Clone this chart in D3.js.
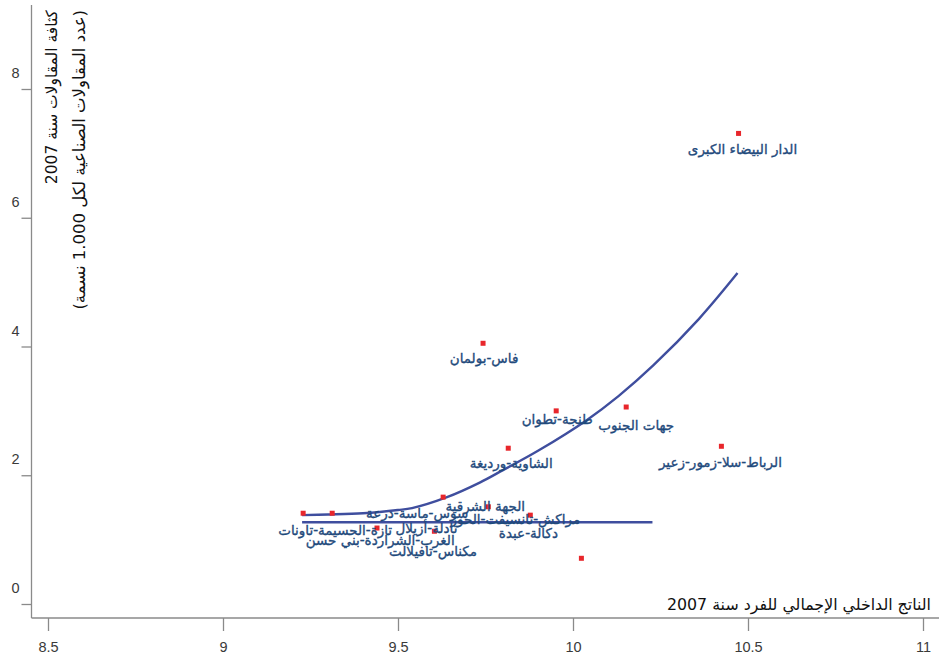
<!DOCTYPE html>
<html><head><meta charset="utf-8">
<script src="https://cdn.jsdelivr.net/npm/d3@7"></script>
<style>body{margin:0;background:#fff}svg{display:block}</style>
</head><body>
<svg id="c" width="939" height="666"></svg>
<script>
// ---- data ----
const regions = ["الدار البيضاء الكبرى","فاس-بولمان","طنجة-تطوان","جهات الجنوب","الشاوية-ورديغة","الرباط-سلا-زمور-زعير","الجهة الشرقية","سوس-ماسة-درعة","مراكش-تانسيفت-الحوز","دكالة-عبدة","تادلة-أزيلال","تازة-الحسيمة-تاونات","الغرب-الشراردة-بني حسن","مكناس-تافيلالت"];
const gdpPerCapita = [10.473, 9.743, 9.952, 10.152, 9.815, 10.424, 9.758, 9.629, 9.878, 10.024, 9.604, 9.229, 9.312, 9.44];
const firmDensity = [7.31, 4.05, 3.00, 3.06, 2.42, 2.45, 1.51, 1.66, 1.38, 0.71, 1.13, 1.41, 1.41, 1.18];
const fitX = [9.226, 9.30, 9.40, 9.50, 9.54, 9.64, 9.735, 9.80, 9.90, 10.04, 10.13, 10.23, 10.36, 10.47];
const fitY = [1.38, 1.39, 1.41, 1.46, 1.49, 1.66, 1.89, 2.08, 2.38, 2.86, 3.23, 3.71, 4.43, 5.14];
const meanX = [9.226, 10.227];
const meanY = [1.27, 1.27];
const xTicks = [8.5, 9, 9.5, 10, 10.5, 11];
const yTicks = [0, 2, 4, 6, 8];
const xTitle = "الناتج الداخلي الإجمالي للفرد سنة 2007";
const yTitle1 = "كثافة المقاولات سنة 2007";
const yTitle2 = "(عدد المقاولات الصناعية لكل 1.000 نسمة)";
// label nudges (px) relative to each point
const labelNudge = [[4,16],[1,15],[1,8],[10,18],[3,15],[-1,16],[-3,-1],[-26,16],[-15,4],[-53,-25],[-8,-3],[32,17],[48,27],[56,23]];

// ---- chart ----
const svg = d3.select("#c");
const x = d3.scaleLinear().domain([8.5, 11]).range([48, 923]);
const y = d3.scaleLinear().domain([0, 8]).range([604, 89]);
const axisColor = "#8a8a8a";
const axisX0 = 31.5, axisY0 = 618;

svg.append("line").attr("x1", axisX0).attr("x2", axisX0).attr("y1", 5).attr("y2", axisY0)
  .attr("stroke", axisColor).attr("stroke-width", 1.3);
svg.append("line").attr("x1", axisX0).attr("x2", 939).attr("y1", axisY0).attr("y2", axisY0)
  .attr("stroke", axisColor).attr("stroke-width", 1.3);

const xa = svg.append("g").attr("transform", `translate(0,${axisY0})`)
  .call(d3.axisBottom(x).tickValues(xTicks).tickFormat(d3.format("")).tickSize(13).tickPadding(11));
xa.select(".domain").remove();
xa.selectAll("line").attr("stroke", axisColor).attr("stroke-width", 1.3);
xa.selectAll("text").attr("fill", "#3a3a3a").attr("font-family", "Liberation Sans, Arial, sans-serif").attr("font-size", 14.5);

const ya = svg.append("g").attr("transform", `translate(${axisX0},0)`)
  .call(d3.axisLeft(y).tickValues(yTicks).tickSize(10).tickPadding(0));
ya.select(".domain").remove();
ya.selectAll("line").attr("stroke", axisColor).attr("stroke-width", 1.3);
ya.selectAll("text").attr("fill", "#3a3a3a").attr("font-family", "Liberation Sans, Arial, sans-serif").attr("font-size", 14.5)
  .attr("x", -16).attr("y", -16).attr("text-anchor", "middle");

const line = d3.line().x(d => x(d[0])).y(d => y(d[1])).curve(d3.curveCatmullRom.alpha(0.5));
svg.append("path").datum(meanX.map((v, i) => [v, meanY[i]])).attr("d", line)
  .attr("fill", "none").attr("stroke", "#3f4e9e").attr("stroke-width", 2.4);
svg.append("path").datum(fitX.map((v, i) => [v, fitY[i]])).attr("d", line)
  .attr("fill", "none").attr("stroke", "#3f4e9e").attr("stroke-width", 2.4);

const pts = regions.map((r, i) => ({ r, gx: gdpPerCapita[i], fy: firmDensity[i], n: labelNudge[i] }));
svg.append("g").selectAll("rect").data(pts).join("rect")
  .attr("x", d => x(d.gx) - 2.5).attr("y", d => y(d.fy) - 2.5)
  .attr("width", 5).attr("height", 5).attr("fill", "#e8262b");

svg.append("g").selectAll("text").data(pts).join("text")
  .attr("x", d => x(d.gx) + d.n[0]).attr("y", d => y(d.fy) + d.n[1])
  .attr("dy", "0.35em").attr("text-anchor", "middle")
  .attr("font-family", "DejaVu Sans, sans-serif").attr("font-size", 13.5)
  .attr("fill", "#1f4a7c").attr("stroke", "#1f4a7c").attr("stroke-width", 0.35)
  .text(d => d.r);

svg.append("text").attr("x", 931).attr("y", 610).attr("text-anchor", "end")
  .attr("font-family", "DejaVu Sans, sans-serif").attr("font-size", 15.8).attr("fill", "#111").text(xTitle);
svg.append("text").attr("transform", "translate(57,10) rotate(-90)")
  .attr("direction", "rtl").attr("text-anchor", "start")
  .attr("font-family", "DejaVu Sans, sans-serif").attr("font-size", 15.5).attr("fill", "#111").text(yTitle1);
svg.append("text").attr("transform", "translate(85,10) rotate(-90)")
  .attr("direction", "rtl").attr("text-anchor", "start")
  .attr("font-family", "DejaVu Sans, sans-serif").attr("font-size", 16.5).attr("fill", "#111").text(yTitle2);
</script>
</body></html>
